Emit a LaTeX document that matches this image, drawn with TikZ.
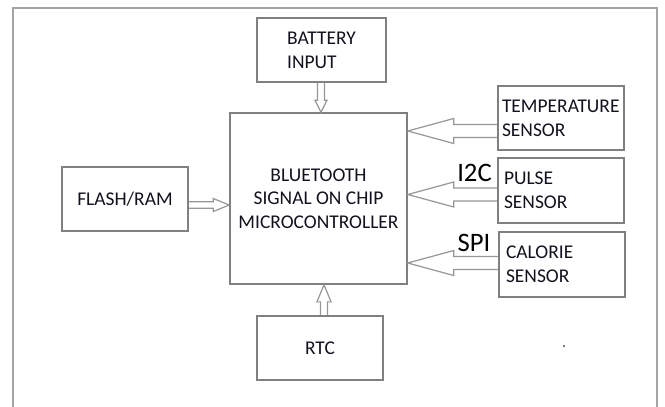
\documentclass[tikz,border=0pt]{standalone}
\usepackage{fontspec}
\setmainfont{Carlito}
\usetikzlibrary{calc}
\definecolor{boxCol}{RGB}{128, 128, 128}
\definecolor{arrowCol}{RGB}{150, 150, 150}
\definecolor{frameCol}{RGB}{165, 165, 165}
\definecolor{textCol}{RGB}{18, 18, 30}

% hollow block arrow: from, to, shaft half width, head half width, head length
\newcommand{\hollowArrow}[5]{%
    \coordinate (ha) at ($(#2)!#5!(#1)$);
    \draw[arrowLine] ($(#1)!#3!90:(#2)$) -- ($(ha)!#3!-90:(#1)$)
        -- ($(ha)!#4!-90:(#1)$) -- (#2) -- ($(ha)!#4!90:(#1)$)
        -- ($(ha)!#3!90:(#1)$) -- ($(#1)!#3!-90:(#2)$);
}

\begin{document}
\begin{tikzpicture}[
    x=0.75pt, y=-0.75pt,
    box/.style={draw=boxCol, line width=1.2pt, align=left, text=textCol,
        inner sep=0pt, font=\fontsize{14.6pt}{18pt}\selectfont},
    arrowLine/.style={draw=arrowCol, line width=0.9pt, line join=miter},
    busLabel/.style={font=\fontsize{20pt}{22pt}\selectfont, text=black}
]

    \useasboundingbox (0,0) rectangle (665,407);

    % ---------------- outer frame ----------------
    \draw[frameCol, line width=1pt] (13,407) -- (13,8) -- (657,8) -- (657,407);

    % ---------------- blocks ----------------
    \node[box, minimum width=96.75pt, minimum height=48pt] (battery) at (321.5,50)
        {BATTERY\\INPUT};
    \node[box, align=center, minimum width=132.75pt, minimum height=128.25pt,
        font=\fontsize{14.6pt}{17.6pt}\selectfont] (mcu) at (318.5,198.5)
        {BLUETOOTH\\SIGNAL ON CHIP\\MICROCONTROLLER};
    \node[box, align=center, minimum width=94.5pt, minimum height=48pt] (flash) at (125,199)
        {FLASH/RAM};
    \node[box, align=center, minimum width=94.5pt, minimum height=48pt] (rtc) at (320,348)
        {RTC};

    % sensors (right column)
    \node[box, minimum height=48pt, inner xsep=3pt, text width=88.5pt] (temp) at (561,118)
        {TEMPERATURE\\SENSOR};
    \node[box, minimum height=48.75pt, inner xsep=4.5pt, text width=85.5pt] (pulse) at (561,190.5)
        {PULSE\\SENSOR};
    \node[box, minimum height=48.75pt, inner xsep=5.25pt, text width=84pt] (calorie) at (562,264.5)
        {CALORIE\\SENSOR};

    % ---------------- bus labels ----------------
    \node[busLabel] (i2c) at (474.5,173) {I2C};
    \node[busLabel] (spi) at (474,243) {SPI};

    % ---------------- hollow arrows ----------------
    \coordinate (battOut) at ($(battery.south)+(-0.5,0)$);
    \coordinate (battTip) at (battOut |- mcu.north);
    \hollowArrow{battOut}{battTip}{2.6pt}{4.5pt}{9pt}

    \coordinate (rtcOut) at ($(rtc.north)+(4,0)$);
    \coordinate (rtcTip) at (rtcOut |- mcu.south);
    \hollowArrow{rtcOut}{rtcTip}{2.6pt}{5.3pt}{12.8pt}

    \coordinate (flashOut) at ($(flash.east)+(0,6)$);
    \coordinate (flashTip) at (mcu.west |- flashOut);
    \hollowArrow{flashOut}{flashTip}{2.5pt}{4.9pt}{12pt}

    \coordinate (tempOut) at ($(temp.west)+(0,13)$);
    \coordinate (tempTip) at (mcu.east |- tempOut);
    \hollowArrow{tempOut}{tempTip}{4.9pt}{9.4pt}{34.5pt}

    \coordinate (pulseOut) at ($(pulse.west)+(0,4)$);
    \coordinate (pulseTip) at (mcu.east |- pulseOut);
    \hollowArrow{pulseOut}{pulseTip}{4.9pt}{9.4pt}{34.5pt}

    \coordinate (calorieOut) at ($(calorie.west)+(0,-1.5)$);
    \coordinate (calorieTip) at (mcu.east |- calorieOut);
    \hollowArrow{calorieOut}{calorieTip}{4.9pt}{9.4pt}{34.5pt}

    % stray dot
    \fill[black!70] (564,346) circle (0.9pt);

\end{tikzpicture}
\end{document}
